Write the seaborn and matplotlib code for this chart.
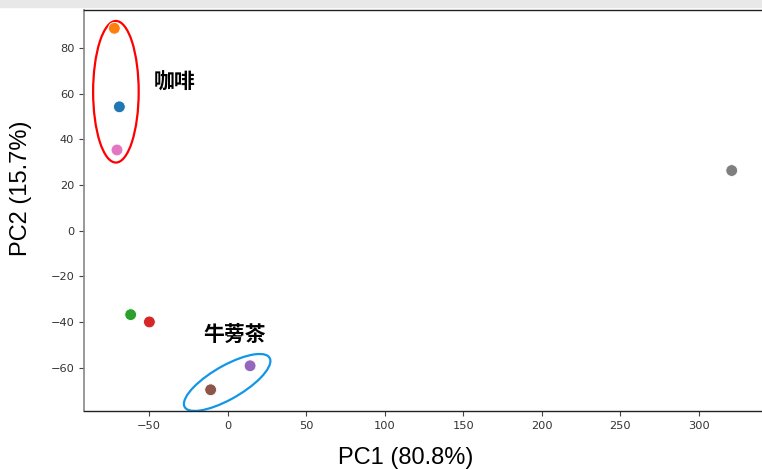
import matplotlib
matplotlib.use("Agg")
import matplotlib.pyplot as plt
from matplotlib.patches import Ellipse, Rectangle
import seaborn as sns
import pandas as pd

# PCA scores for each sample
samples = ["S1", "S2", "S3", "S4", "S5", "S6", "S7", "S8"]
pc1 = [-68.9, -72.1, -61.7, -49.8, 14.3, -10.8, -70.4, 320.8]
pc2 = [54.2, 88.6, -36.8, -40.0, -59.2, -69.7, 35.3, 26.3]

# Group annotations: label, label position, ellipse (center, width, height, angle, colour)
group_labels = ["咖啡", "牛蒡茶"]
label_xy = [(-33.5, 64.9), (4.7, -45.3)]
ellipse_center = [(-71.1, 60.8), (-0.3, -66.5)]
ellipse_size = [(29, 62), (58.4, 15.5)]
ellipse_angle = [0, 20.3]
ellipse_color = ["#ff0000", "#1296e8"]

df = pd.DataFrame({"sample": samples, "PC1": pc1, "PC2": pc2})

sns.set_style("ticks")
plt.rcParams["font.family"] = ["DejaVu Sans"]

fig = plt.figure(figsize=(7.62, 4.70), dpi=100)
ax = fig.add_axes([84 / 762, 59 / 470, 693.6 / 762, 401 / 470])

sns.scatterplot(data=df, x="PC1", y="PC2", hue="sample",
                palette="tab10", s=72, edgecolor="white", linewidth=0.6,
                legend=False, ax=ax, zorder=3)

for (cx, cy), (w, h), ang, col in zip(ellipse_center, ellipse_size,
                                       ellipse_angle, ellipse_color):
    ax.add_patch(Ellipse((cx, cy), w, h, angle=ang, fill=False,
                         edgecolor=col, linewidth=1.6, zorder=2))

for txt, (tx, ty) in zip(group_labels, label_xy):
    ax.text(tx, ty, txt, ha="center", va="center", fontsize=15,
            family=["Noto Sans CJK SC", "DejaVu Sans"], fontweight="bold",
            color="black")

ax.set_xlim(-91.4, 350)
ax.set_ylim(-79.0, 96.6)
ax.set_xticks([-50, 0, 50, 100, 150, 200, 250, 300])
ax.set_yticks([-60, -40, -20, 0, 20, 40, 60, 80])
ax.tick_params(labelsize=8.2, labelcolor="#333333", length=3.5, width=0.8,
               color="#444444")

for side in ["top", "bottom", "right"]:
    ax.spines[side].set_visible(True)
    ax.spines[side].set_color("#222222")
    ax.spines[side].set_linewidth(1.0)
ax.spines["left"].set_color("#888888")
ax.spines["left"].set_linewidth(1.2)

ax.set_xlabel("PC1 (80.8%)", fontsize=17, color="black",
              family=["Liberation Sans", "DejaVu Sans"])
ax.set_ylabel("PC2 (15.7%)", fontsize=17, color="black",
              family=["Liberation Sans", "DejaVu Sans"])
ax.xaxis.label.set_va("center")
ax.yaxis.label.set_va("center")
ax.xaxis.set_label_coords(0.464, -0.116)
ax.yaxis.set_label_coords(-0.0908, 0.556)

# thin grey band along the top edge of the canvas
fig.patches.append(Rectangle((0, 1 - 7 / 470), 1, 7 / 470,
                             transform=fig.transFigure, color="#e8e8e8",
                             zorder=0))

fig.savefig("out.png", dpi=100)
